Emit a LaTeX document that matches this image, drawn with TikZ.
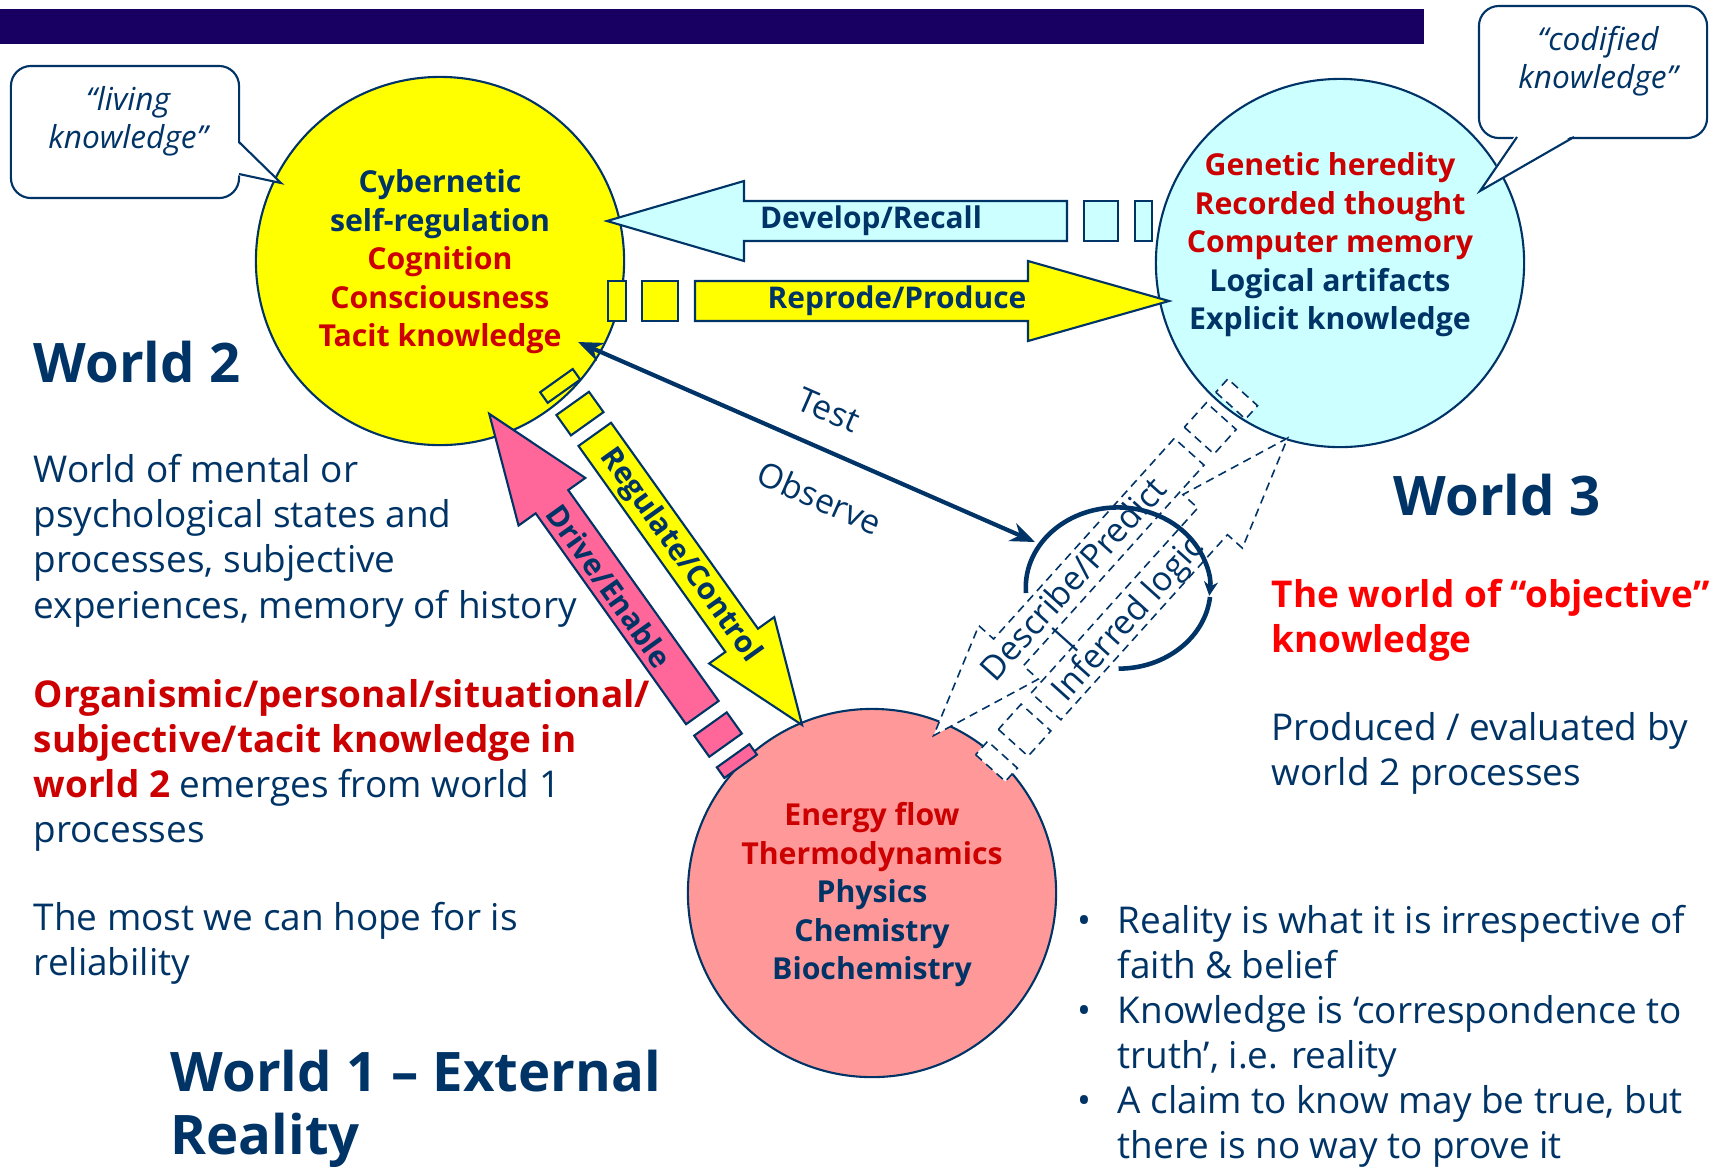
\documentclass[tikz,border=0pt]{standalone}
\usepackage{fontspec}
\setmainfont{Open Sans}
\usetikzlibrary{arrows.meta}
\definecolor{titlebar}{RGB}{24,0,98}
\definecolor{inkblue}{RGB}{0,51,102}
\definecolor{deepred}{RGB}{204,0,0}
\definecolor{brightred}{RGB}{255,0,0}
\definecolor{w2yellow}{RGB}{255,255,0}
\definecolor{w3cyan}{RGB}{204,255,255}
\definecolor{w1pink}{RGB}{255,153,153}
\definecolor{drivepink}{RGB}{255,102,153}
\tikzstyle{worldcircle} = [circle, draw=inkblue, line width=0.6pt, minimum size=3.68cm, inner sep=0pt]
\tikzstyle{calloutbox} = [draw=inkblue, fill=white, line width=0.6pt, rounded corners=0.2cm, minimum width=2.28cm, minimum height=1.32cm]
\tikzstyle{callouttext} = [align=center, inner sep=0pt, text=inkblue, font=\fontsize{9}{10.8}\selectfont\itshape]
\tikzstyle{blockarrow} = [draw=inkblue, line width=0.6pt]
\tikzstyle{dashblock} = [draw=inkblue, fill=white, line width=0.45pt, dash pattern=on 2.4pt off 1.6pt]
\tikzstyle{circletext} = [align=center, inner sep=0pt, text=deepred, font=\fontsize{8.6}{10.95}\selectfont\bfseries]
\tikzstyle{arrowlabel} = [inner sep=0pt, text=inkblue, font=\fontsize{8.5}{10}\selectfont\bfseries]
\tikzstyle{linklabel} = [inner sep=0pt, text=inkblue, font=\fontsize{9.6}{10.5}\selectfont]
\tikzstyle{heading} = [inner sep=0pt, text=inkblue, font=\fontsize{15.5}{17.9}\selectfont\bfseries]
\tikzstyle{bodytext} = [align=left, inner sep=0pt, anchor=north west, text=inkblue, font=\fontsize{10.5}{12.8}\selectfont]
\tikzstyle{arrow} = [inkblue, line width=1.2pt, {Stealth[length=7pt,width=5.5pt]}-{Stealth[length=7pt,width=5.5pt]}]

\begin{document}
\begin{tikzpicture}[x=0.01cm, y=-0.01cm]
\useasboundingbox (0,0) rectangle (1722,1166);
\fill[titlebar] (0,9) rectangle (1424,44);

% the three worlds
\node[worldcircle, fill=w2yellow] (w2) at (440,261) {};
\node[worldcircle, fill=w3cyan] (w3) at (1340,263) {};
\node[worldcircle, fill=w1pink] (w1) at (872,893) {};

% callouts
\node[calloutbox] (livingbox) at (125,132) {};
\fill[white] (236,141) -- (281,183) -- (236,175) -- cycle;
\draw[inkblue, line width=0.6pt] (239,142) -- (281,183) -- (239,174);
\node[callouttext] (living) at (128,121) {“living\\knowledge”};
\node[calloutbox] (codifiedbox) at (1593,72) {};
\fill[white] (1516,134) -- (1480,191) -- (1575,134) -- cycle;
\draw[inkblue, line width=0.6pt] (1517,137) -- (1480,191) -- (1574,137);
\node[callouttext] (codified) at (1598,61) {“codified\\knowledge”};

% world 3 <-> world 2
\draw[blockarrow, fill=w3cyan] (1067,201) -- (744,201) -- (744,181) -- (607,221) -- (744,261) -- (744,241) -- (1067,241) -- cycle;
\draw[blockarrow, fill=w3cyan] (1084,201) rectangle (1118,241);
\draw[blockarrow, fill=w3cyan] (1135,201) rectangle (1152,241);
\node[arrowlabel] (develop) at (871,221) {Develop/Recall};
\draw[blockarrow, fill=w2yellow] (695,281) -- (1028,281) -- (1028,261) -- (1169,301) -- (1028,341) -- (1028,321) -- (695,321) -- cycle;
\draw[blockarrow, fill=w2yellow] (642,281) rectangle (678,321);
\draw[blockarrow, fill=w2yellow] (608,281) rectangle (626,321);
\node[arrowlabel] (reprode) at (897,301) {Reprode/Produce};

% world 2 <-> world 1
\begin{scope}[rotate=-54.5, transform shape]
\draw[blockarrow, fill=w2yellow] (699,-252) -- (952,-252) -- (952,-272) -- (1056,-232) -- (952,-192) -- (952,-212) -- (699,-212) -- cycle;
\draw[blockarrow, fill=w2yellow] (661,-252) rectangle (686,-212);
\draw[blockarrow, fill=w2yellow] (633,-252) rectangle (646,-212);
\node[arrowlabel] (regulate) at (847,-231) {Regulate/Control};
\draw[blockarrow, fill=drivepink] (988,-178) -- (729,-178) -- (729,-199) -- (621,-158) -- (729,-117) -- (729,-138) -- (988,-138) -- cycle;
\draw[blockarrow, fill=drivepink] (1002,-178) rectangle (1028,-138);
\draw[blockarrow, fill=drivepink] (1041,-178) rectangle (1054,-138);
\node[arrowlabel] (drive) at (831,-156) {Drive/Enable};
\end{scope}

% world 3 <-> world 1
\begin{scope}[rotate=48, transform shape]
\draw[dashblock] (460,1166) -- (190,1166) -- (190,1146) -- (78,1186) -- (190,1226) -- (190,1206) -- (460,1206) -- cycle;
\draw[dashblock] (475,1166) rectangle (508,1206);
\draw[dashblock] (522,1166) rectangle (540,1206);
\draw[dashblock] (175,1230) -- (424,1230) -- (424,1210) -- (536,1250) -- (424,1290) -- (424,1270) -- (175,1270) -- cycle;
\draw[dashblock] (126,1230) rectangle (160,1270);
\draw[dashblock] (92,1230) rectangle (110,1270);
\end{scope}

% test / observe loop
\coordinate (testA) at (578,342);
\coordinate (testB) at (1035,542);
\draw[arrow] (testA) -- node[linklabel, pos=0.515, sloped, above=6.8pt] (test) {Test} node[linklabel, pos=0.569, sloped, below=8.7pt] (observe) {Observe} (testB);
\draw[inkblue, line width=1.3pt, -{Stealth[length=4pt,width=4pt]}] (1026,593) arc[start angle=-184, end angle=6, x radius=92, y radius=80];
\draw[inkblue, line width=1.3pt] (1210,597) arc[start angle=6, end angle=90, x radius=92, y radius=80];
\begin{scope}[rotate=48, transform shape]
\node[linklabel] (describe) at (288,1184) {Describe/Predict};
\node[linklabel] (bar) at (237,1220) {|};
\node[linklabel] (inferred) at (295,1254) {Inferred logic};
\end{scope}

% circle texts
\node[circletext] (w2text) at (440,262) {\textcolor{inkblue}{Cybernetic}\\\textcolor{inkblue}{self-regulation}\\Cognition\\Consciousness\\Tacit knowledge};
\node[circletext] (w3text) at (1330,245) {Genetic heredity\\Recorded thought\\Computer memory\\\textcolor{inkblue}{Logical artifacts}\\\textcolor{inkblue}{Explicit knowledge}};
\node[circletext] (w1text) at (872,895) {Energy flow\\Thermodynamics\\\textcolor{inkblue}{Physics}\\\textcolor{inkblue}{Chemistry}\\\textcolor{inkblue}{Biochemistry}};

% side texts
\node[heading, anchor=base west] (world2) at (33,382) {World 2};
\node[bodytext] (mental) at (33,454) {World of mental or\\psychological states and\\processes, subjective\\experiences, memory of history};
\node[bodytext] (organismic) at (33,679) {\textcolor{deepred}{\bfseries Organismic/personal/situational/}\\\textcolor{deepred}{\bfseries subjective/tacit knowledge in}\\\textcolor{deepred}{\bfseries world 2} emerges from world 1\\processes};
\node[bodytext] (reliability) at (33,902) {The most we can hope for is\\reliability};
\node[heading, align=left, anchor=north west] (world1) at (170,1049) {World 1 – External\\Reality};
\node[heading, anchor=base west] (world3) at (1393,515) {World 3};
\node[bodytext, text=brightred, font=\fontsize{10.5}{12.8}\selectfont\bfseries] (objective) at (1271,579) {The world of “objective”\\knowledge};
\node[bodytext] (produced) at (1271,712) {Produced / evaluated by\\world 2 processes};
\node[bodytext] (bullets) at (1077,901) {\begin{tabular}{@{}l@{}l@{}}
\makebox[0.4cm][l]{\textbullet} & Reality is what it is irrespective of\\
 & faith \& belief\\
\makebox[0.4cm][l]{\textbullet} & Knowledge is ‘correspondence to\\
 & truth’, i.e. reality\\
\makebox[0.4cm][l]{\textbullet} & A claim to know may be true, but\\
 & there is no way to prove it
\end{tabular}};
\end{tikzpicture}
\end{document}
